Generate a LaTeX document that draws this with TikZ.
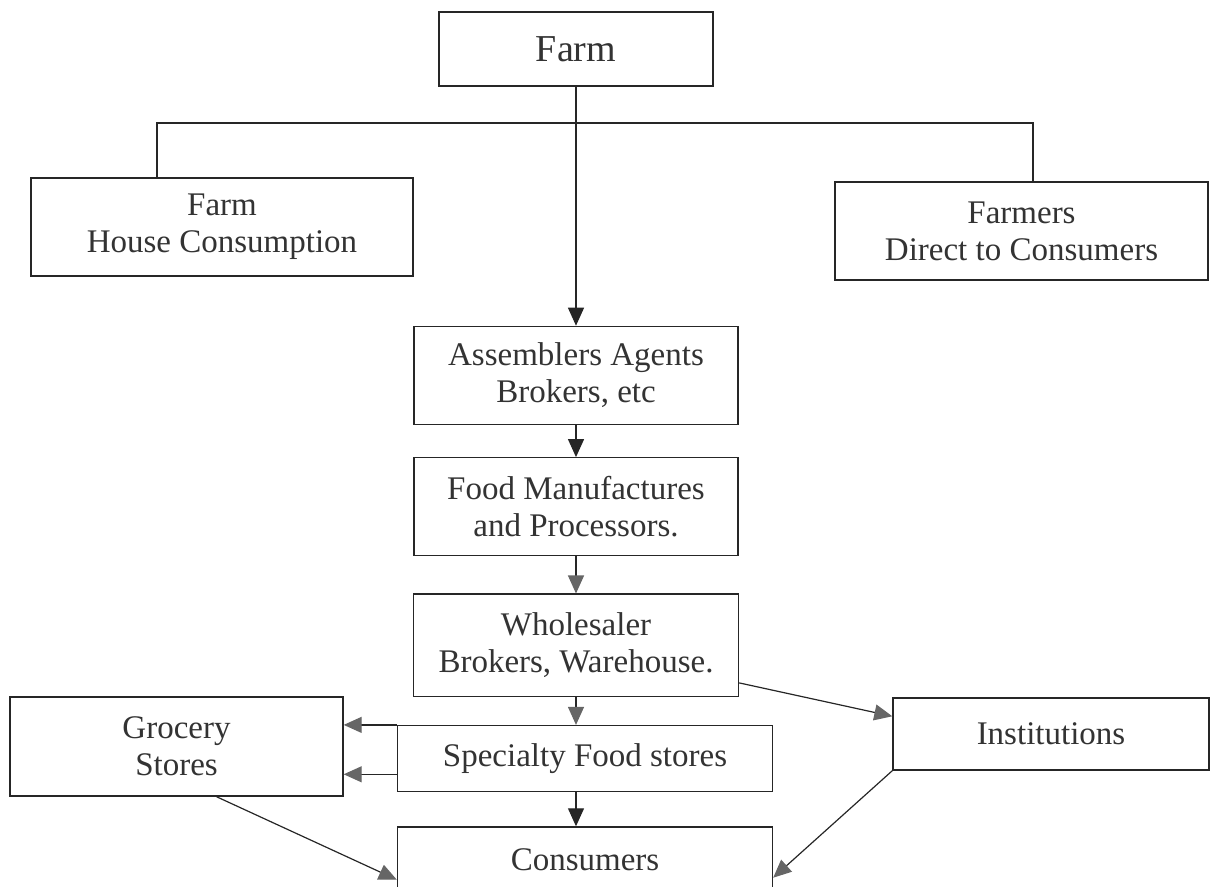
\documentclass[tikz,border=0pt]{standalone}
\usepackage{fontspec}
\setmainfont{Liberation Serif}
\usetikzlibrary{positioning, arrows.meta, calc}
\colorlet{drawColor}{black!85}
\colorlet{tipColor}{black!60}
\tikzstyle{rect}=[rectangle, align=center, draw=drawColor, line width=0.7pt,
fill=white, text=black!80, inner sep=0pt, font=\fontsize{16.5}{18.5}\selectfont]
\tikzstyle{link}=[line width=0.6pt, draw=drawColor]
\tikzstyle{arrow}=[-{Triangle[length=9pt, width=8pt]}, line width=0.6pt, draw=drawColor]
\tikzstyle{arrowGray}=[-{Triangle[length=9pt, width=8pt, color=tipColor]}, line width=0.6pt,
draw=drawColor]

\begin{document}
\begin{tikzpicture}[x=0.5pt, y=-0.5pt, node distance=16pt]
      \useasboundingbox (0,0) rectangle (1211,887);
      % main column
      \node(farm) [rect, minimum width=137pt, minimum height=37pt,
        font=\fontsize{19}{22}\selectfont] at (576,49) {Farm};
      \node(assem) [rect, minimum width=162pt, minimum height=49pt,
        below=119.5pt of farm] {Assemblers Agents\\Brokers, etc};
      \draw [arrow] (farm) -- (assem);
      \node(food) [rect, minimum width=162pt, minimum height=49pt,
        below=of assem] {Food Manufactures\\and Processors.};
      \draw [arrow] (assem) -- (food);
      \node(whole) [rect, minimum width=162.5pt, minimum height=51pt,
        below=18.5pt of food] {Wholesaler\\Brokers, Warehouse.};
      \draw [arrowGray] (food) -- (whole);
      \node(special) [rect, minimum width=187.5pt, minimum height=33pt,
        below=14pt of whole, xshift=4.5pt] {Specialty Food stores};
      \draw [arrowGray] (whole.south) -- (whole.south |- special.north);
      \node(consumer) [rect, minimum width=187.5pt, minimum height=33pt,
        below=17pt of special] {Consumers};
      \draw [arrow] (whole.south |- special.south) -- (whole.south |- consumer.north);
      % farm branches
      \node(house) [rect, minimum width=191pt, minimum height=49pt] at (222,227)
        {Farm\\House Consumption};
      \node(direct) [rect, minimum width=186.5pt, minimum height=49pt] at (1021.5,231)
        {Farmers\\Direct to Consumers};
      \coordinate (jl) at (157,123);
      \coordinate (jr) at (1033,123);
      \draw [link] (jl |- house.north) -- (jl) -- (jr) -- (jr |- direct.north);
      % retail side
      \node(grocery) [rect, minimum width=166.5pt, minimum height=49.5pt] at (176.5,746.5)
        {Grocery\\Stores};
      \node(instit) [rect, minimum width=158pt, minimum height=36pt] at (1051,734)
        {Institutions};
      \coordinate (sp) at ($(special.south west)+(0,-18)$);
      \draw [arrowGray] (special.north west) -- (special.north west -| grocery.east);
      \draw [arrowGray] (sp) -- (sp -| grocery.east);
      \draw [arrowGray] ($(whole.south east)+(0,-14)$) -- ($(instit.north west)+(0,19)$);
      \draw [arrowGray] ($(grocery.south)+(40,0)$) -- ($(consumer.south west)+(0,-14)$);
      \draw [arrowGray] (instit.south west) -- ($(consumer.south east)+(0,-16)$);
    \end{tikzpicture}
\end{document}
